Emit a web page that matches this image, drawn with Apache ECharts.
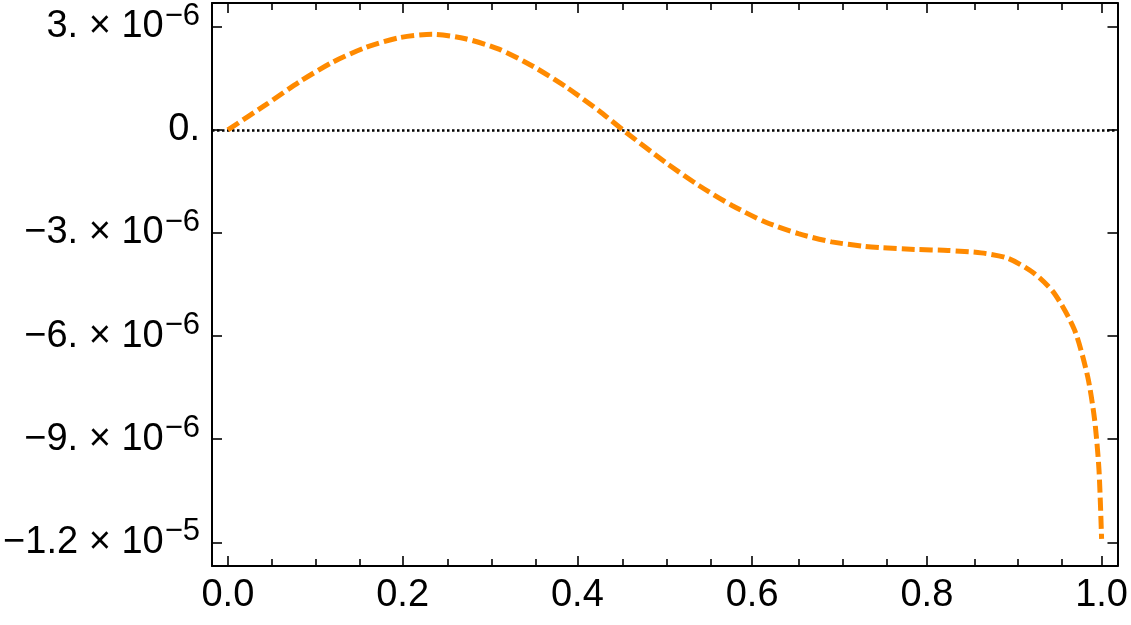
<!DOCTYPE html>
<html>
<head>
<meta charset="utf-8">
<script src="https://cdn.jsdelivr.net/npm/echarts@6/dist/echarts.min.js"></script>
<style>
html,body{margin:0;padding:0;background:#fff;}
#chart{width:1131px;height:625px;}
</style>
</head>
<body>
<div id="chart"></div>
<script>
// ---- data ----
const xValues = [0, 0.044, 0.082, 0.12, 0.158, 0.196, 0.234, 0.272, 0.311, 0.349, 0.387, 0.425, 0.452,
  0.501, 0.539, 0.577, 0.615, 0.653, 0.691, 0.729, 0.748, 0.786, 0.824, 0.862, 0.893, 0.923, 0.946,
  0.969, 0.984, 0.992, 0.997, 1.0];
const yValues = [0, 0.74e-6, 1.40e-6, 1.97e-6, 2.40e-6, 2.68e-6, 2.78e-6, 2.65e-6, 2.34e-6, 1.85e-6,
  1.25e-6, 0.55e-6, 0, -0.95e-6, -1.62e-6, -2.20e-6, -2.68e-6, -3.02e-6, -3.26e-6, -3.39e-6, -3.43e-6,
  -3.48e-6, -3.51e-6, -3.58e-6, -3.74e-6, -4.18e-6, -4.76e-6, -5.82e-6, -7.17e-6, -8.43e-6, -9.88e-6,
  -11.9e-6];
const xTicks = [0, 0.2, 0.4, 0.6, 0.8, 1.0];
const xTickLabels = ['0.0', '0.2', '0.4', '0.6', '0.8', '1.0'];
const xMinorTicks = [0.05, 0.1, 0.15, 0.25, 0.3, 0.35, 0.45, 0.5, 0.55, 0.65, 0.7, 0.75, 0.85, 0.9, 0.95];
const yTicks = [3e-6, 0, -3e-6, -6e-6, -9e-6, -1.2e-5];
const yTickMantissa = ['3.', '0.', '\u22123.', '\u22126.', '\u22129.', '\u22121.2'];
const yTickExponent = ['\u22126', '', '\u22126', '\u22126', '\u22126', '\u22125'];
const xRange = [-0.0182, 1.0182];
const yRange = [-12.69e-6, 3.69e-6];

// ---- chart ----
const FONT = '"Liberation Sans", Arial, sans-serif';
const chart = echarts.init(document.getElementById('chart'), null, {renderer: 'canvas'});
const lineCol = '#000';
const G = {left: 212, right: 9, top: 3, bottom: 59};

function xAxisBase(extra) {
  return Object.assign({
    type: 'value', min: xRange[0], max: xRange[1],
    axisLine: {show: true, onZero: false, lineStyle: {color: lineCol, width: 2}},
    splitLine: {show: false},
    axisLabel: {show: false},
    axisTick: {show: true, inside: true, length: 10, lineStyle: {color: lineCol, width: 1.6}, customValues: xTicks}
  }, extra);
}
function yAxisBase(extra) {
  return Object.assign({
    type: 'value', min: yRange[0], max: yRange[1],
    axisLine: {show: true, onZero: false, lineStyle: {color: lineCol, width: 2}},
    splitLine: {show: false},
    axisLabel: {show: false},
    axisTick: {show: true, inside: true, length: 10, lineStyle: {color: lineCol, width: 1.6}, customValues: yTicks}
  }, extra);
}
// minor x ticks: helper grids whose x axis sits on the zero of a helper y axis placed just inside the frame edge
function minorX(gridIndex, pos) {
  return {
    type: 'value', gridIndex: gridIndex, position: pos, min: xRange[0], max: xRange[1],
    axisLine: {show: false},
    splitLine: {show: false},
    axisLabel: {show: false},
    axisTick: {show: true, inside: true, length: 6, lineStyle: {color: lineCol, width: 1.6}, customValues: xMinorTicks}
  };
}
function helperY(gridIndex, min, max) {
  return {
    type: 'value', gridIndex: gridIndex, min: min, max: max,
    axisLine: {show: false}, axisTick: {show: false}, axisLabel: {show: false}, splitLine: {show: false}
  };
}

const option = {
  animation: false,
  backgroundColor: '#fff',
  grid: [Object.assign({}, G), Object.assign({}, G), Object.assign({}, G)],
  xAxis: [
    xAxisBase({gridIndex: 0, position: 'bottom',
      axisLabel: {show: true, margin: 11, fontSize: 38, fontFamily: FONT, color: '#000',
        customValues: xTicks,
        formatter: function (v) {
          const i = xTicks.findIndex(t => Math.abs(t - v) < 1e-9);
          return i >= 0 ? xTickLabels[i] : '';
        }}}),
    xAxisBase({gridIndex: 0, position: 'top'}),
    minorX(1, 'bottom'),
    minorX(2, 'top')
  ],
  yAxis: [
    yAxisBase({gridIndex: 0, position: 'left',
      axisLabel: {show: true, margin: 12, fontSize: 38, fontFamily: FONT, color: '#000',
        customValues: yTicks,
        formatter: function (v) {
          const i = yTicks.findIndex(t => Math.abs(t - v) < 1e-12);
          if (i < 0) return '';
          if (!yTickExponent[i]) return '{m|' + yTickMantissa[i] + '}';
          return '{m|' + yTickMantissa[i] + '} {m|\u00d7} {m|10}{s|' + yTickExponent[i] + '}';
        },
        rich: {
          m: {fontSize: 38, fontFamily: FONT, color: '#000'},
          s: {fontSize: 31, fontFamily: FONT, color: '#000', verticalAlign: 'bottom', padding: [0, 0, 21, 1]}
        }}}),
    yAxisBase({gridIndex: 0, position: 'right'}),
    helperY(1, -0.002, 1),
    helperY(2, -1, 0.002)
  ],
  series: [{
    type: 'line',
    xAxisIndex: 0, yAxisIndex: 0,
    data: xValues.map((x, i) => [x, yValues[i]]),
    showSymbol: false,
    smooth: 0.25,
    z: 3,
    lineStyle: {color: '#ff8a00', width: 5, type: [13, 5], cap: 'butt'},
    markLine: {
      silent: true, symbol: ['none', 'none'], z: 2,
      label: {show: false},
      lineStyle: {color: '#000', type: [2.5, 2.5], width: 2.5},
      data: [{yAxis: 0}]
    }
  }]
};
chart.setOption(option);
</script>
</body>
</html>
